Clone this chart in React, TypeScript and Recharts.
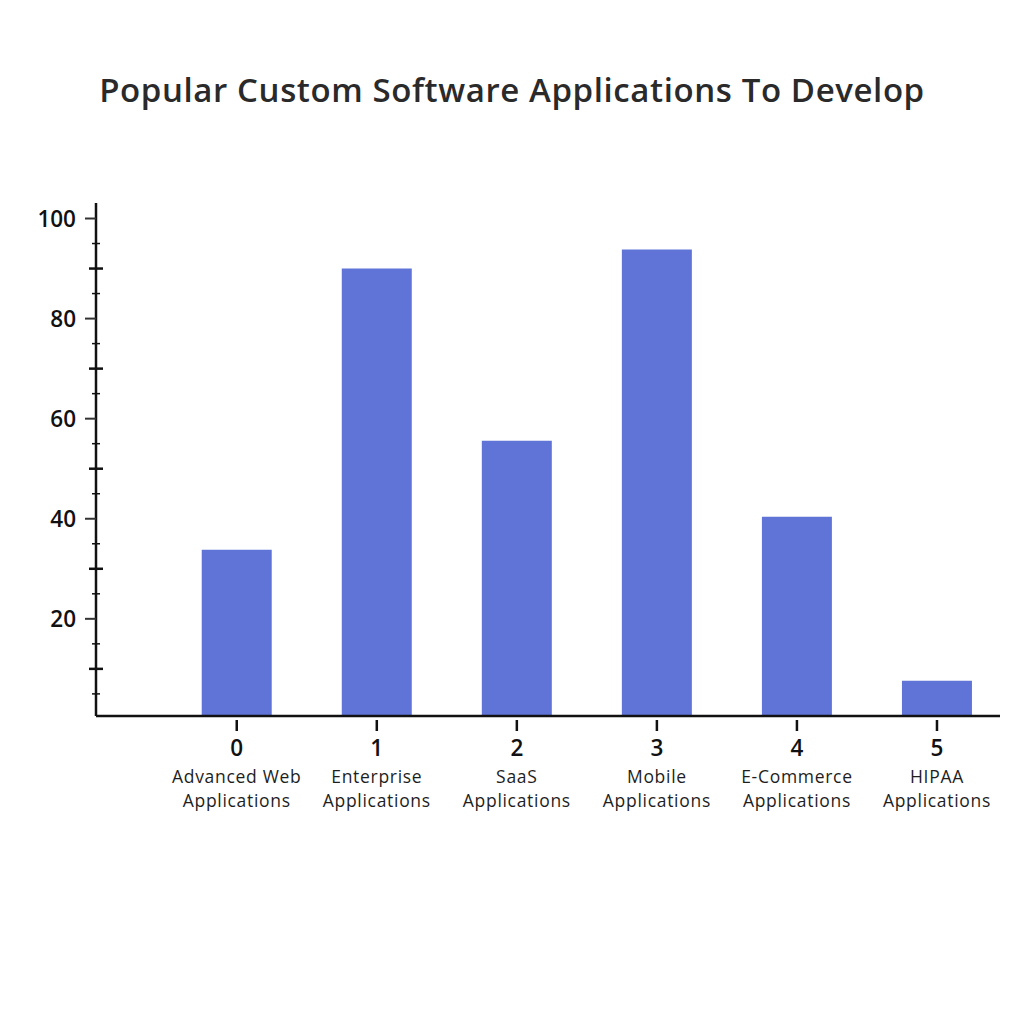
import React from 'react';
import { BarChart, Bar, XAxis, YAxis } from 'recharts';

const categories = [
  ['Advanced Web', 'Applications'],
  ['Enterprise', 'Applications'],
  ['SaaS', 'Applications'],
  ['Mobile', 'Applications'],
  ['E-Commerce', 'Applications'],
  ['HIPAA', 'Applications'],
];
const indices = [0, 1, 2, 3, 4, 5];
const values = [33.8, 90.0, 55.6, 93.8, 40.4, 7.6];
const yTicks = [5, 10, 15, 20, 25, 30, 35, 40, 45, 50, 55, 60, 65, 70, 75, 80, 85, 90, 95, 100];

const data = indices.map((i) => ({ idx: i, value: values[i] }));

const FONT = "'Open Sans', 'Noto Sans', sans-serif";

const YTick = (props: any) => {
  const { x, y, payload } = props;
  const v = payload.value;
  if (v % 20 === 0) {
    return (
      <g>
        <line x1={x - 11} x2={x} y1={y} y2={y} stroke="#333" strokeWidth={2} />
        <text x={x - 20} y={y} textAnchor="end" dominantBaseline="central" fontSize={22.5} fontWeight={600} fill="#111" fontFamily={FONT}>
          {v}
        </text>
      </g>
    );
  }
  if (v % 10 === 0) {
    return <line x1={x - 7} x2={x + 7} y1={y} y2={y} stroke="#111" strokeWidth={2.5} />;
  }
  return <line x1={x - 4} x2={x + 4} y1={y} y2={y} stroke="#111" strokeWidth={1.5} />;
};

const XTick = (props: any) => {
  const { x, y, payload } = props;
  const i = payload.value;
  const lines = categories[i] || [];
  return (
    <g>
      <line x1={x} x2={x} y1={y + 4} y2={y + 15} stroke="#111" strokeWidth={2.5} />
      <text x={x} y={y + 40} textAnchor="middle" fontSize={22.5} fontWeight={600} fill="#111" fontFamily={FONT}>
        {i}
      </text>
      {lines.map((l, k) => (
        <text key={k} x={x} y={y + 67 + k * 24} textAnchor="middle" fontSize={17.5} fontWeight={500} letterSpacing={0.7} fill="#1e1e1e" fontFamily={FONT}>
          {l}
        </text>
      ))}
    </g>
  );
};

export default function App() {
  return (
    <div style={{ position: 'absolute', left: 0, top: 0, width: 1024, height: 1024, background: '#fff' }}>
      <div
        style={{
          position: 'absolute',
          left: 0,
          width: 1024,
          top: 68,
          textAlign: 'center',
          fontFamily: FONT,
          fontWeight: 600,
          fontSize: 33,
          letterSpacing: 0.6,
          color: '#2a2a2a',
          lineHeight: '44px',
        }}
      >
        Popular Custom Software Applications To Develop
      </div>
      <BarChart
        width={1024}
        height={1024}
        data={data}
        margin={{ top: 203, left: 0, right: 24, bottom: 0 }}
      >
        <XAxis
          dataKey="idx"
          type="number"
          domain={[-1.005, 5.45]}
          allowDataOverflow
          ticks={indices}
          interval={0}
          height={308}
          tickSize={0}
          tickMargin={0}
          tickLine={false}
          axisLine={{ stroke: '#111', strokeWidth: 2.5 }}
          tick={<XTick />}
        />
        <YAxis
          type="number"
          domain={[0.58, 103.1]}
          allowDataOverflow
          ticks={yTicks}
          interval={0}
          width={96}
          tickSize={0}
          tickMargin={0}
          tickLine={false}
          axisLine={{ stroke: '#111', strokeWidth: 2.5 }}
          tick={<YTick />}
        />
        <Bar dataKey="value" fill="#6074D8" barSize={70} isAnimationActive={false} />
      </BarChart>
    </div>
  );
}
